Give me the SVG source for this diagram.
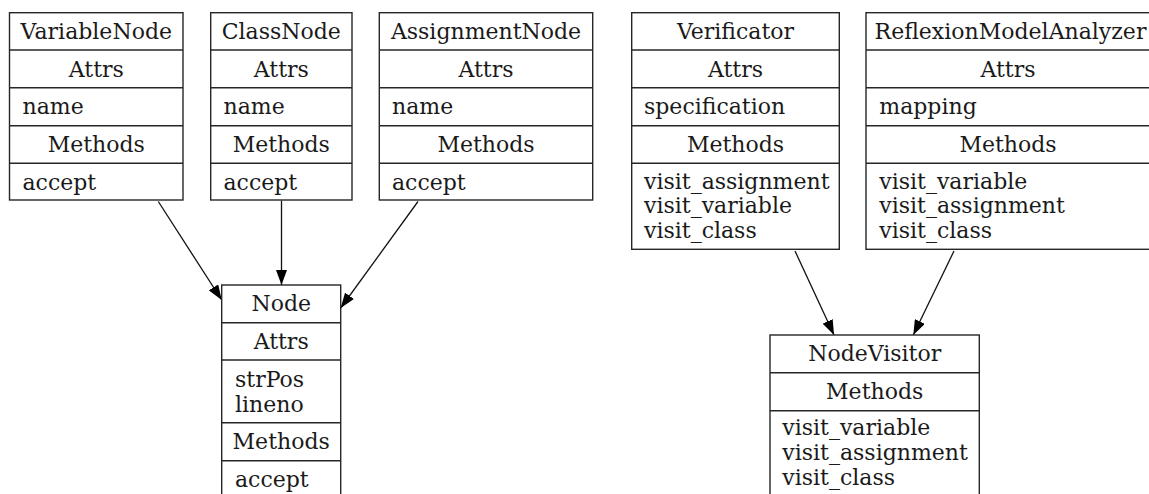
<svg xmlns="http://www.w3.org/2000/svg" width="1149" height="494" viewBox="0 0 1149 494">
<style>
.box{fill:#fff;stroke:#262626;stroke-width:1.4}
.sep{stroke:#262626;stroke-width:1.4}
text{font-family:"DejaVu Serif",serif;font-size:22px;fill:#1a1a1a}
.c{text-anchor:middle}
.edge{stroke:#111;stroke-width:1.3;fill:none}
</style>
<defs>
<marker id="arr" viewBox="0 0 15 11" refX="15" refY="5.5" markerWidth="15" markerHeight="11" markerUnits="userSpaceOnUse" orient="auto">
<path d="M0,0 L15,5.5 L0,11 Z" fill="#000"/>
</marker>
</defs>
<g id="connectors">
<line class="edge" x1="158.3" y1="201.5" x2="221.7" y2="300" marker-end="url(#arr)"/>
<line class="edge" x1="281.5" y1="200.5" x2="281.5" y2="285" marker-end="url(#arr)"/>
<line class="edge" x1="418" y1="201.5" x2="340.7" y2="308" marker-end="url(#arr)"/>
<line class="edge" x1="795" y1="251" x2="834" y2="335" marker-end="url(#arr)"/>
<line class="edge" x1="954" y1="251" x2="913.3" y2="335" marker-end="url(#arr)"/>
</g>
<g id="VariableNode">
<rect class="box" x="9.5" y="12.7" width="173.5" height="187.3"/>
<line class="sep" x1="9.5" y1="50" x2="183" y2="50"/>
<line class="sep" x1="9.5" y1="87.7" x2="183" y2="87.7"/>
<line class="sep" x1="9.5" y1="125.7" x2="183" y2="125.7"/>
<line class="sep" x1="9.5" y1="163.3" x2="183" y2="163.3"/>
<text class="c" x="96.3" y="38.8">VariableNode</text>
<text class="c" x="96.3" y="76.5">Attrs</text>
<text x="22.5" y="114.3">name</text>
<text class="c" x="96.3" y="152">Methods</text>
<text x="22.5" y="189.5">accept</text>
</g>
<g id="ClassNode">
<rect class="box" x="210.7" y="12.7" width="141.3" height="187.3"/>
<line class="sep" x1="210.7" y1="50" x2="352" y2="50"/>
<line class="sep" x1="210.7" y1="87.7" x2="352" y2="87.7"/>
<line class="sep" x1="210.7" y1="125.7" x2="352" y2="125.7"/>
<line class="sep" x1="210.7" y1="163.3" x2="352" y2="163.3"/>
<text class="c" x="281.3" y="38.8">ClassNode</text>
<text class="c" x="281.3" y="76.5">Attrs</text>
<text x="223.5" y="114.3">name</text>
<text class="c" x="281.3" y="152">Methods</text>
<text x="223.5" y="189.5">accept</text>
</g>
<g id="AssignmentNode">
<rect class="box" x="379.3" y="12.7" width="213.4" height="187.3"/>
<line class="sep" x1="379.3" y1="50" x2="592.7" y2="50"/>
<line class="sep" x1="379.3" y1="87.7" x2="592.7" y2="87.7"/>
<line class="sep" x1="379.3" y1="125.7" x2="592.7" y2="125.7"/>
<line class="sep" x1="379.3" y1="163.3" x2="592.7" y2="163.3"/>
<text class="c" x="486" y="38.8">AssignmentNode</text>
<text class="c" x="486" y="76.5">Attrs</text>
<text x="392" y="114.3">name</text>
<text class="c" x="486" y="152">Methods</text>
<text x="392" y="189.5">accept</text>
</g>
<g id="Verificator">
<rect class="box" x="631.7" y="12.7" width="207.6" height="236.6"/>
<line class="sep" x1="631.7" y1="50" x2="839.3" y2="50"/>
<line class="sep" x1="631.7" y1="87.7" x2="839.3" y2="87.7"/>
<line class="sep" x1="631.7" y1="125.7" x2="839.3" y2="125.7"/>
<line class="sep" x1="631.7" y1="163.3" x2="839.3" y2="163.3"/>
<text class="c" x="735.5" y="38.8">Verificator</text>
<text class="c" x="735.5" y="76.5">Attrs</text>
<text x="644" y="114.3">specification</text>
<text class="c" x="735.5" y="152">Methods</text>
<text x="644" y="188.5">visit_assignment</text>
<text x="644" y="213.2">visit_variable</text>
<text x="644" y="237.9">visit_class</text>
</g>
<g id="ReflexionModelAnalyzer">
<rect class="box" x="866" y="12.7" width="290" height="236.6"/>
<line class="sep" x1="866" y1="50" x2="1156" y2="50"/>
<line class="sep" x1="866" y1="87.7" x2="1156" y2="87.7"/>
<line class="sep" x1="866" y1="125.7" x2="1156" y2="125.7"/>
<line class="sep" x1="866" y1="163.3" x2="1156" y2="163.3"/>
<text class="c" x="1010.5" y="38.8">ReflexionModelAnalyzer</text>
<text class="c" x="1008" y="76.5">Attrs</text>
<text x="879.3" y="114.3">mapping</text>
<text class="c" x="1008" y="152">Methods</text>
<text x="879.3" y="188.5">visit_variable</text>
<text x="879.3" y="213.2">visit_assignment</text>
<text x="879.3" y="237.9">visit_class</text>
</g>
<g id="Node">
<rect class="box" x="221.7" y="285" width="119" height="220"/>
<line class="sep" x1="221.7" y1="322.7" x2="340.7" y2="322.7"/>
<line class="sep" x1="221.7" y1="360" x2="340.7" y2="360"/>
<line class="sep" x1="221.7" y1="422.7" x2="340.7" y2="422.7"/>
<line class="sep" x1="221.7" y1="460.7" x2="340.7" y2="460.7"/>
<text class="c" x="281.2" y="311.3">Node</text>
<text class="c" x="281.2" y="348.8">Attrs</text>
<text x="235" y="386.9">strPos</text>
<text x="235" y="411.6">lineno</text>
<text class="c" x="281.2" y="449.3">Methods</text>
<text x="235" y="486.5">accept</text>
</g>
<g id="NodeVisitor">
<rect class="box" x="770" y="335" width="209.3" height="170"/>
<line class="sep" x1="770" y1="372.7" x2="979.3" y2="372.7"/>
<line class="sep" x1="770" y1="410.7" x2="979.3" y2="410.7"/>
<text class="c" x="874.7" y="361.3">NodeVisitor</text>
<text class="c" x="874.7" y="399.3">Methods</text>
<text x="782.3" y="435.2">visit_variable</text>
<text x="782.3" y="459.9">visit_assignment</text>
<text x="782.3" y="484.6">visit_class</text>
</g>
</svg>
